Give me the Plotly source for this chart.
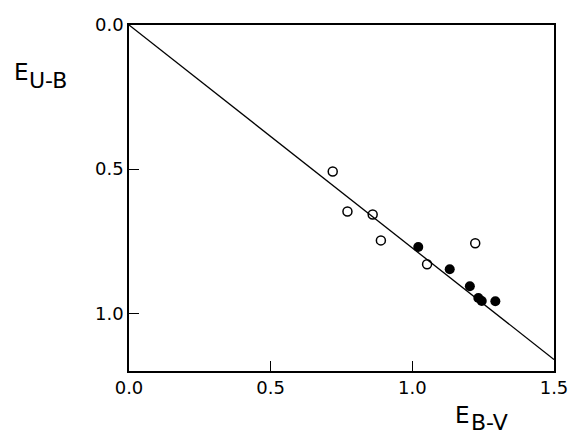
import plotly.graph_objects as go

# Open circles
open_x = [0.719, 0.771, 0.860, 0.889, 1.052, 1.222]
open_y = [0.508, 0.647, 0.657, 0.747, 0.830, 0.757]
# Filled circles
fill_x = [1.021, 1.132, 1.203, 1.233, 1.245, 1.293]
fill_y = [0.770, 0.847, 0.906, 0.947, 0.957, 0.958]
# Reddening line
line_x = [0.0, 1.5]
line_y = [0.0, 1.16]

x_ticks = [0.0, 0.5, 1.0, 1.5]
y_ticks = [0.0, 0.5, 1.0]

FONT = "DejaVu Sans"

fig = go.Figure()
fig.add_trace(go.Scatter(x=line_x, y=line_y, mode="lines",
                         line=dict(color="black", width=1.3), showlegend=False))
fig.add_trace(go.Scatter(x=open_x, y=open_y, mode="markers",
                         marker=dict(symbol="circle-open", size=9, color="black",
                                     line=dict(width=1.5, color="black")),
                         showlegend=False))
fig.add_trace(go.Scatter(x=fill_x, y=fill_y, mode="markers",
                         marker=dict(symbol="circle", size=10, color="black"),
                         showlegend=False))

fig.update_layout(
    width=570, height=434,
    margin=dict(l=129, r=16, t=25, b=63, autoexpand=False),
    paper_bgcolor="white", plot_bgcolor="white",
    font=dict(family=FONT, color="black", size=18),
    xaxis=dict(range=[0, 1.5], tickvals=x_ticks, tickformat=".1f",
               ticks="inside", ticklen=10, tickwidth=1.3, tickcolor="black",
               showline=True, linecolor="black", linewidth=1.6, mirror=True,
               showgrid=False, zeroline=False, ticklabelstandoff=0,
               automargin=False,
               tickfont=dict(family=FONT, size=18)),
    yaxis=dict(range=[1.2, 0], tickvals=y_ticks, tickformat=".1f",
               ticks="inside", ticklen=10, tickwidth=1.3, tickcolor="black",
               showline=True, linecolor="black", linewidth=1.6, mirror=True,
               showgrid=False, zeroline=False, automargin=False,
               tickfont=dict(family=FONT, size=18)),
)

# Axis titles as annotations (E with same-size lowered subscript)
fig.add_annotation(text="E", xref="paper", yref="paper", x=(12-129)/425, y=(371-57)/346,
                   xanchor="left", yanchor="top", showarrow=False,
                   font=dict(family=FONT, size=23))
fig.add_annotation(text="U-B", xref="paper", yref="paper", x=(27-129)/425, y=(371-66)/346,
                   xanchor="left", yanchor="top", showarrow=False,
                   font=dict(family=FONT, size=22))
fig.add_annotation(text="E", xref="paper", yref="paper", x=(453-129)/425, y=(371-400)/346,
                   xanchor="left", yanchor="top", showarrow=False,
                   font=dict(family=FONT, size=23))
fig.add_annotation(text="B-V", xref="paper", yref="paper", x=(469-129)/425, y=(371-408)/346,
                   xanchor="left", yanchor="top", showarrow=False,
                   font=dict(family=FONT, size=22))

fig.write_html("out.html", config={"displayModeBar": False},
               post_script="document.body.style.margin='0';document.body.style.padding='0';")
